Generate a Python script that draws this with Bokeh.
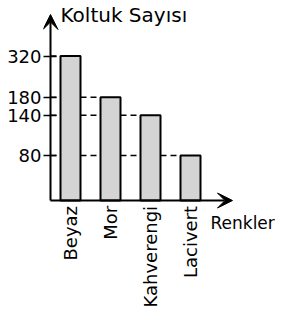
import math
from bokeh.plotting import figure
from bokeh.models import Arrow, VeeHead, Label, FixedTicker, Range1d, PrintfTickFormatter, ColumnDataSource
from bokeh.core.properties import value
from bokeh.embed import file_html
from bokeh.resources import INLINE

# Data
categories = ["Beyaz", "Mor", "Kahverengi", "Lacivert"]
seats = [320, 180, 140, 80]
y_ticks = [80, 140, 180, 320]
y_title = "Koltuk Sayısı"
x_title = "Renkler"

FONT = "DejaVu Sans"
Y0 = 42.7        # baseline of the schematic value axis
Y_BOT = 8.84
Y_TOP = 694.0
X_START = -0.175
X_END = 5.625

xpos = [i + 0.5 for i in range(len(categories))]
bar_w = 0.5

p = figure(width=275, height=313, x_range=Range1d(X_START, X_END), y_range=Range1d(Y_BOT, Y_TOP),
           y_axis_type="log", x_axis_location=None, output_backend="svg", toolbar_location=None,
           min_border_left=43, min_border_right=0, min_border_top=0, min_border_bottom=0)
p.outline_line_color = None
p.xgrid.visible = False
p.ygrid.visible = False
p.background_fill_color = "white"
p.border_fill_color = "white"

# dashed guide lines from the axis to each bar's left edge
p.segment(x0=[0] * len(seats), y0=seats, x1=[x - bar_w / 2 for x in xpos], y1=seats,
          line_color="black", line_width=1.5, line_dash="6 4")

src = ColumnDataSource(dict(x=xpos, top=seats, name=categories))
p.vbar(x="x", top="top", bottom=Y0, width=bar_w, source=src,
       fill_color="#d4d4d4", line_color="black", line_width=2)

# category labels under the bars (vertical)
p.text(x="x", y=39.6, text="name", source=src, angle=math.pi / 2,
       text_align="right", text_baseline="middle", text_font=value(FONT),
       text_font_size="18px", text_color="black")

# y axis ticks and labels
p.yaxis.ticker = FixedTicker(ticks=y_ticks)
p.yaxis.formatter = PrintfTickFormatter(format="%d")
p.yaxis.axis_line_color = None
p.yaxis.major_tick_in = 13
p.yaxis.major_tick_out = 0
p.yaxis.major_tick_line_width = 1.5
p.yaxis.minor_tick_line_color = None
p.yaxis.major_label_standoff = 2
p.yaxis.major_label_text_font = FONT
p.yaxis.major_label_text_font_size = "18px"
p.yaxis.major_label_text_color = "black"

# axis arrows
p.add_layout(Arrow(x_start=0, y_start=Y0, x_end=0, y_end=571, line_width=2, line_color="black",
                   end=VeeHead(size=15, fill_color="black", line_color="black", line_width=1)))
p.add_layout(Arrow(x_start=0, y_start=Y0, x_end=4.55, y_end=Y0, line_width=2, line_color="black",
                   end=VeeHead(size=15, fill_color="black", line_color="black", line_width=1)))

p.add_layout(Label(x=0.25, y=566, text=y_title, text_font=FONT, text_font_size="20px",
                   text_align="left", text_baseline="alphabetic", text_color="black"))
p.add_layout(Label(x=4.0, y=31.0, text=x_title, text_font=FONT, text_font_size="17px",
                   text_align="left", text_baseline="alphabetic", text_color="black"))

open("out.html", "w").write(file_html(p, INLINE))
